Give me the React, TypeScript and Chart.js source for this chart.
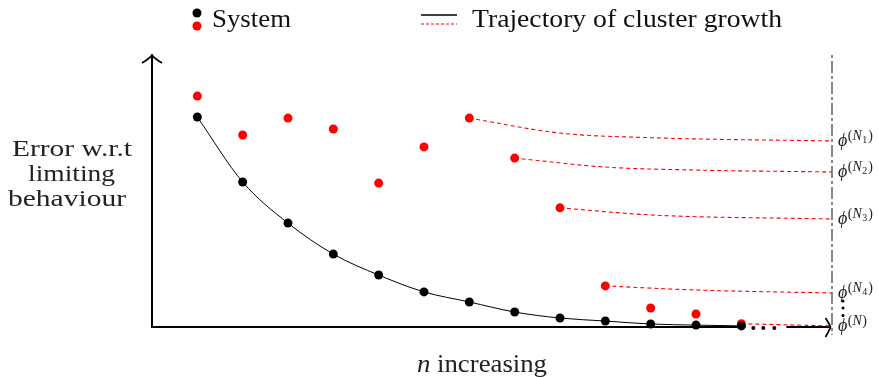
import React, { useEffect, useRef } from 'react';
import { Chart, registerables } from 'chart.js';

Chart.register(...registerables);

// ---- data ----
const nValues = [1, 2, 3, 4, 5, 6, 7, 8, 9, 10, 11, 12, 13];
const blackErr = [77.2, 53.3, 38.2, 26.8, 19.1, 12.9, 9.2, 5.5, 3.3, 2.2, 1.1, 0.7, 0.4];
const redErr = [84.9, 70.6, 76.8, 72.8, 52.9, 66.2, 76.8, 62.1, 43.8, 15.1, 7.0, 4.8, 1.2];

const traj1N = [7, 9, 11, 15];
const traj1Err = [76.8, 71.3, 69.6, 68.4];
const traj2N = [8, 10, 12, 15];
const traj2Err = [62.1, 58.8, 57.7, 57.0];
const traj3N = [9, 11, 15];
const traj3Err = [43.8, 41.2, 39.7];
const traj4N = [10, 12, 15];
const traj4Err = [15.1, 13.6, 12.5];
const traj5N = [13, 15];
const traj5Err = [1.2, 0.4];

const phiLimits = [68.4, 57.0, 39.7, 12.5, 0.4];
const phiSubs = ['1', '2', '3', '4', ''];

const xMax = 15;
const yMax = 100;

const legendSystem = 'System';
const legendTraj = 'Trajectory of cluster growth';
const yLabelLines = ['Error w.r.t', 'limiting', 'behaviour'];
const xLabelVar = 'n';
const xLabelText = ' increasing';

const RED = '#ff0000';
const SERIF = '"Liberation Serif", "DejaVu Serif", serif';

const pts = (xs: number[], ys: number[]) => xs.map((x, i) => ({ x, y: ys[i] }));

// draw text left-aligned at x, stretched horizontally to a target width
function stretchText(ctx: CanvasRenderingContext2D, text: string, x: number, y: number, font: string, width: number) {
  ctx.font = font;
  const w = ctx.measureText(text).width;
  const s = width / w;
  ctx.save();
  ctx.translate(x, y);
  ctx.scale(s, 1);
  ctx.textAlign = 'left';
  ctx.fillText(text, 0, 0);
  ctx.restore();
}

const decor = {
  id: 'decor',
  beforeDatasetsDraw(chart: any) {
    const { ctx, chartArea: a, scales } = chart;
    const xs = scales.x;
    ctx.save();
    const xl = xs.getPixelForValue(xMax);
    // dash-dot limit line
    ctx.strokeStyle = '#555';
    ctx.lineWidth = 1.4;
    ctx.setLineDash([3, 3, 12, 3]);
    ctx.beginPath();
    ctx.moveTo(xl, a.top);
    ctx.lineTo(xl, a.bottom + 8);
    ctx.stroke();
    ctx.setLineDash([]);

    // axes
    ctx.strokeStyle = '#000';
    ctx.lineWidth = 2;
    ctx.lineCap = 'butt';
    ctx.beginPath();
    ctx.moveTo(a.left, a.bottom + 1);
    ctx.lineTo(a.left, a.top + 1);
    ctx.stroke();
    const lastX = xs.getPixelForValue(nValues[nValues.length - 1]);
    ctx.beginPath();
    ctx.moveTo(a.left - 1, a.bottom);
    ctx.lineTo(lastX + 4, a.bottom);
    ctx.moveTo(lastX + 45, a.bottom);
    ctx.lineTo(xl - 1.5, a.bottom);
    ctx.stroke();

    // arrowheads
    ctx.lineWidth = 1.7;
    ctx.beginPath();
    ctx.moveTo(a.left - 10, a.top + 8);
    ctx.quadraticCurveTo(a.left - 3, a.top + 4, a.left, a.top);
    ctx.quadraticCurveTo(a.left + 3, a.top + 4, a.left + 10, a.top + 8);
    ctx.stroke();
    const tx = xl - 1.5;
    ctx.beginPath();
    ctx.moveTo(tx - 5, a.bottom - 9);
    ctx.quadraticCurveTo(tx - 1, a.bottom - 3, tx, a.bottom);
    ctx.quadraticCurveTo(tx - 1, a.bottom + 3, tx - 5, a.bottom + 10);
    ctx.stroke();

    // "..." after the last point
    ctx.fillStyle = '#000';
    [12, 22, 33].forEach((dx) => {
      ctx.beginPath();
      ctx.arc(lastX + dx, a.bottom + 1, 2, 0, Math.PI * 2);
      ctx.fill();
    });
    ctx.restore();
  },
  afterDraw(chart: any) {
    const { ctx, scales } = chart;
    const xs = scales.x;
    const ys = scales.y;
    ctx.save();
    ctx.fillStyle = '#000';
    ctx.textBaseline = 'alphabetic';

    // legend
    ctx.beginPath();
    ctx.arc(197, 13, 4.5, 0, Math.PI * 2);
    ctx.fill();
    ctx.fillStyle = RED;
    ctx.beginPath();
    ctx.arc(197, 26, 4.5, 0, Math.PI * 2);
    ctx.fill();
    ctx.fillStyle = '#111';
    stretchText(ctx, legendSystem, 212, 27, `26px ${SERIF}`, 79);
    ctx.strokeStyle = '#000';
    ctx.lineWidth = 1.3;
    ctx.beginPath();
    ctx.moveTo(421, 15);
    ctx.lineTo(457, 15);
    ctx.stroke();
    ctx.strokeStyle = RED;
    ctx.lineWidth = 1.1;
    ctx.setLineDash([3, 2]);
    ctx.beginPath();
    ctx.moveTo(421, 24);
    ctx.lineTo(457, 24);
    ctx.stroke();
    ctx.setLineDash([]);
    stretchText(ctx, legendTraj, 472, 27, `26px ${SERIF}`, 310);

    // y label
    ctx.fillStyle = '#222';
    stretchText(ctx, yLabelLines[0], 12, 156, `24px ${SERIF}`, 120);
    stretchText(ctx, yLabelLines[1], 28, 181, `24px ${SERIF}`, 87);
    stretchText(ctx, yLabelLines[2], 8, 206, `24px ${SERIF}`, 118);

    // x label
    ctx.font = `italic 25px ${SERIF}`;
    const wN = ctx.measureText(xLabelVar).width;
    ctx.font = `25px ${SERIF}`;
    const wT = ctx.measureText(xLabelText).width;
    const s = 130 / (wN + wT);
    ctx.save();
    ctx.translate(417, 372);
    ctx.scale(s, 1);
    ctx.textAlign = 'left';
    ctx.font = `italic 25px ${SERIF}`;
    ctx.fillText(xLabelVar, 0, 0);
    ctx.font = `25px ${SERIF}`;
    ctx.fillText(xLabelText, wN, 0);
    ctx.restore();

    // phi labels
    const lx = xs.getPixelForValue(xMax) + 6;
    ctx.textAlign = 'left';
    phiLimits.forEach((v, i) => {
      const py = ys.getPixelForValue(v);
      let cx = lx;
      ctx.fillStyle = '#222';
      ctx.font = `italic 18px ${SERIF}`;
      ctx.fillText('\u03D5', cx, py + 5);
      cx += ctx.measureText('\u03D5').width + 0.5;
      const sb = py - 1;
      ctx.font = `14px ${SERIF}`;
      ctx.fillText('(', cx, sb);
      cx += ctx.measureText('(').width;
      ctx.font = `italic 14px ${SERIF}`;
      ctx.fillText('N', cx, sb);
      cx += ctx.measureText('N').width + 0.5;
      if (phiSubs[i]) {
        ctx.font = `10px ${SERIF}`;
        ctx.fillText(phiSubs[i], cx, sb + 3);
        cx += ctx.measureText(phiSubs[i]).width + 1;
      }
      ctx.font = `14px ${SERIF}`;
      ctx.fillText(')', cx, sb);
    });

    // vertical dots between N4 and N
    ctx.fillStyle = '#000';
    [301, 308, 315.5].forEach((yy) => {
      ctx.beginPath();
      ctx.arc(843, yy, 1.5, 0, Math.PI * 2);
      ctx.fill();
    });
    ctx.restore();
  },
};

export default function App() {
  const ref = useRef<HTMLCanvasElement | null>(null);
  useEffect(() => {
    document.body.style.margin = '0';
    if (!ref.current) return;
    const trajStyle = {
      showLine: true,
      borderColor: RED,
      borderWidth: 1.1,
      borderDash: [4, 3],
      pointRadius: 0,
      cubicInterpolationMode: 'monotone' as const,
      clip: false as any,
      order: 3,
    };
    const chart = new Chart(ref.current, {
      type: 'scatter',
      data: {
        datasets: [
          {
            label: 'System (black)',
            data: pts(nValues, blackErr),
            showLine: true,
            borderColor: '#000',
            borderWidth: 1,
            pointRadius: 4.5,
            pointBackgroundColor: '#000',
            pointBorderWidth: 0,
            cubicInterpolationMode: 'monotone',
            clip: false as any,
            order: 1,
          },
          {
            label: 'System (red)',
            data: pts(nValues, redErr),
            showLine: false,
            pointRadius: 4.5,
            pointBackgroundColor: RED,
            pointBorderWidth: 0,
            clip: false as any,
            order: 2,
          },
          { label: 'traj1', data: pts(traj1N, traj1Err), ...trajStyle },
          { label: 'traj2', data: pts(traj2N, traj2Err), ...trajStyle },
          { label: 'traj3', data: pts(traj3N, traj3Err), ...trajStyle },
          { label: 'traj4', data: pts(traj4N, traj4Err), ...trajStyle },
          { label: 'traj5', data: pts(traj5N, traj5Err), ...trajStyle },
        ],
      },
      options: {
        responsive: false,
        animation: false,
        events: [],
        devicePixelRatio: 1,
        layout: { padding: { left: 152, right: 46, top: 55, bottom: 51 } },
        scales: {
          x: { type: 'linear', display: false, min: 0, max: xMax },
          y: { type: 'linear', display: false, min: 0, max: yMax },
        },
        plugins: { legend: { display: false }, tooltip: { enabled: false } },
      },
      plugins: [decor],
    });
    return () => chart.destroy();
  }, []);
  return (
    <div style={{ position: 'absolute', left: 0, top: 0, width: 878, height: 378, background: '#fff' }}>
      <canvas ref={ref} width={878} height={378} />
    </div>
  );
}
